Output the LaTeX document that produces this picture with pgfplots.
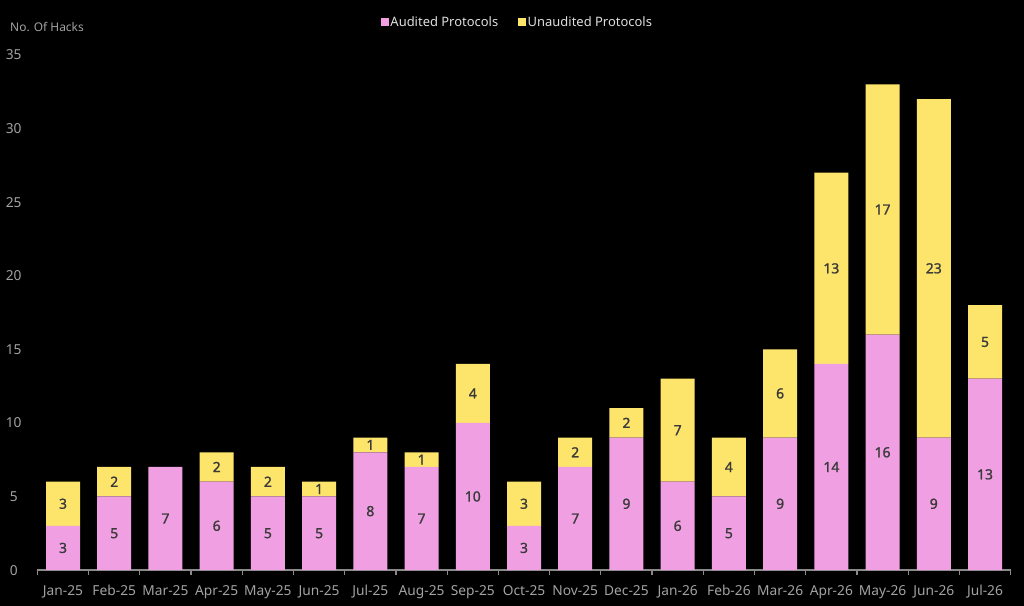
\documentclass[border=0pt]{standalone}
\usepackage{pgfplots}
\pgfplotsset{compat=1.18}
\usepackage{pgfplotstable}
\usepackage{fontspec}
\setmainfont{Noto Sans}
\newfontfamily\medfont{Noto Sans}[FakeBold=1.3]
\definecolor{pinkbar}{HTML}{F0A0E2}
\definecolor{yellowbar}{HTML}{FDE56C}
\definecolor{labgray}{HTML}{A2A2A2}
\definecolor{axgray}{HTML}{8A8A8A}
\definecolor{valtxt}{HTML}{3A3A3A}

\pgfplotstableread{
x a u
0 3 3
1 5 2
2 7 0
3 6 2
4 5 2
5 5 1
6 8 1
7 7 1
8 10 4
9 3 3
10 7 2
11 9 2
12 6 7
13 5 4
14 9 6
15 14 13
16 16 17
17 9 23
18 13 5
}\data

\pgfplotstableread{
x y l
0 1.5 3
1 2.5 5
2 3.5 7
3 3 6
4 2.5 5
5 2.5 5
6 4 8
7 3.5 7
8 5 10
9 1.5 3
10 3.5 7
11 4.5 9
12 3 6
13 2.5 5
14 4.5 9
15 7 14
16 8 16
17 4.5 9
18 6.5 13
}\alab

\pgfplotstableread{
x y l
0 4.5 3
1 6 2
3 7 2
4 6 2
5 5.5 1
6 8.5 1
7 7.5 1
8 12 4
9 4.5 3
10 8 2
11 10 2
12 9.5 7
13 7 4
14 12 6
15 20.5 13
16 24.5 17
17 20.5 23
18 15.5 5
}\ulab

\begin{document}
\begin{tikzpicture}
\fill[black] (0,0) rectangle (1024bp,606bp);
\node[anchor=west, text=labgray, inner sep=0pt, font=\fontsize{12}{12}\selectfont] at (10bp,579bp) {No. Of Hacks};
\begin{axis}[
  at={(37.4bp,36bp)}, anchor=south west,
  scale only axis, width=973.2bp, height=515bp,
  xmin=-0.5, xmax=18.5, ymin=0, ymax=35,
  ybar stacked, bar width=34bp,
  axis x line*=bottom, axis y line*=left,
  x axis line style={draw=axgray, line width=1.2pt},
  y axis line style={draw=none},
  ytick={0,5,...,35}, ytick style={draw=none},
  xtick={0,...,18},
  xticklabels={Jan-25,Feb-25,Mar-25,Apr-25,May-25,Jun-25,Jul-25,Aug-25,Sep-25,Oct-25,Nov-25,Dec-25,Jan-26,Feb-26,Mar-26,Apr-26,May-26,Jun-26,Jul-26},
  major x tick style={draw=none},
  minor xtick={-0.5,0.5,...,18.5},
  minor x tick style={draw=axgray, line width=1.2pt},
  minor tick length=5bp, tick align=outside,
  xticklabel style={anchor=base, yshift=-21.5bp, text=labgray, font=\fontsize{13.8}{13.8}\selectfont},
  yticklabel style={anchor=base, xshift=-19.4bp, yshift=-5bp, text=labgray, font=\fontsize{13.8}{13.8}\selectfont},
  /pgf/number format/assume math mode=true,
  legend columns=2,
  legend style={at={(axis description cs:0.4933,1.064)}, anchor=center, draw=none, fill=none,
    text=white!88!black, font=\fontsize{13}{13}\selectfont,
    /tikz/every even column/.append style={column sep=18bp}},
  legend image code/.code={\fill[#1] (0bp,-3.8bp) rectangle (7.5bp,3.8bp);},
  clip=false,
]
\addplot[fill=pinkbar, draw=none] table[x=x, y=a] {\data};
\addlegendentry{Audited Protocols}
\addplot[fill=yellowbar, draw=none] table[x=x, y=u] {\data};
\addlegendentry{Unaudited Protocols}
\end{axis}
\begin{axis}[
  at={(37.4bp,36bp)}, anchor=south west,
  scale only axis, width=973.2bp, height=515bp,
  xmin=-0.5, xmax=18.5, ymin=0, ymax=35,
  hide axis, clip=false,
  nodes near coords, point meta=explicit symbolic,
  every node near coord/.style={anchor=center, text=valtxt, font=\medfont\fontsize{14}{14}\selectfont},
]
\addplot[draw=none, mark=none] table[x=x, y=y, meta=l] {\alab};
\addplot[draw=none, mark=none] table[x=x, y=y, meta=l] {\ulab};
\end{axis}
\end{tikzpicture}
\end{document}
